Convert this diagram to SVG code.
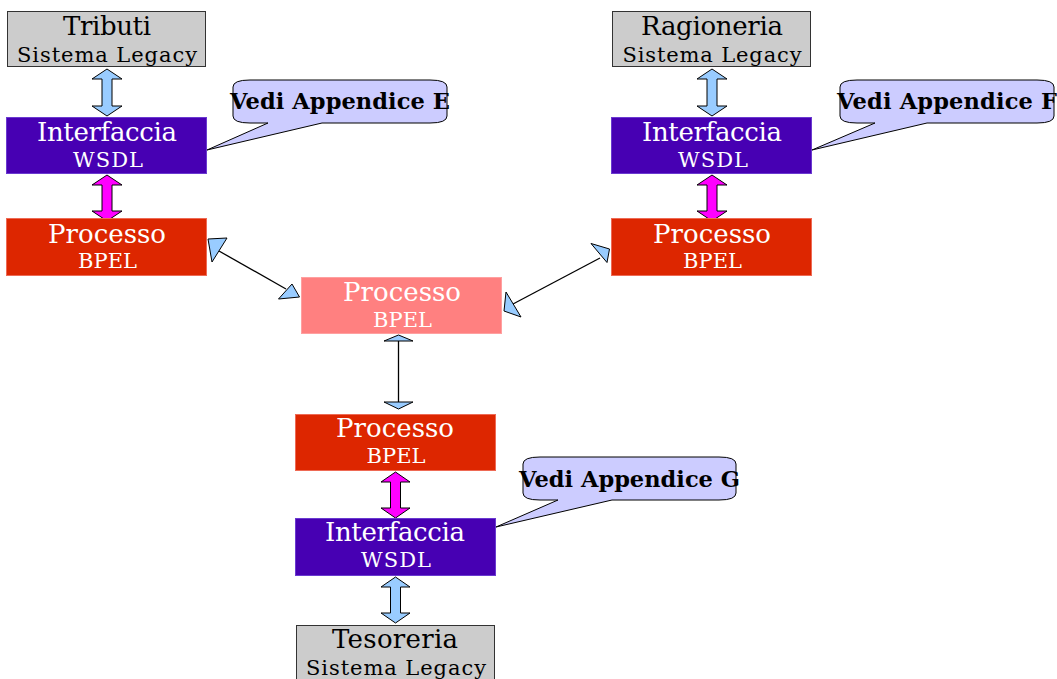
<svg xmlns="http://www.w3.org/2000/svg" width="1057" height="679" viewBox="0 0 1057 679">
  <style>
    .legacy { fill: #cccccc; stroke: #333333; stroke-width: 1; }
    .wsdl { fill: #4700b3; stroke: #6a3ad0; stroke-width: 1; }
    .bpel { fill: #dd2600; stroke: #ee6a55; stroke-width: 1; }
    .bpel-main { fill: #ff8080; stroke: #ffa0a0; stroke-width: 1; }
    .title { font-family: "DejaVu Serif", serif; font-size: 26px; text-anchor: middle; }
    .sub { font-family: "DejaVu Serif", serif; font-size: 21px; text-anchor: middle; }
    .dark { fill: #000000; }
    .light { fill: #ffffff; }
    .note { fill: #ccccff; stroke: #000000; stroke-width: 1; }
    .note-text { font-family: "DejaVu Serif", serif; font-size: 22.5px; font-weight: bold; fill: #000000; }
    .blk-blue { fill: #99ccff; stroke: #000000; stroke-width: 1; }
    .blk-mag { fill: #ff00ff; stroke: #000000; stroke-width: 1; }
    .link { stroke: #000000; stroke-width: 1.3; fill: none; }
    .head { fill: #99ccff; stroke: #000000; stroke-width: 1; stroke-linejoin: round; }
  </style>

  <!-- connectors -->
  <g id="connectors">
    <!-- double block arrows, left column -->
    <path class="blk-blue" d="M107,69 L122,79 H112 V106 H122 L107,116 L92,106 H102 V79 H92 Z"/>
    <path class="blk-mag" d="M107,175 L122,185 H112 V211 H122 L107,221 L92,211 H102 V185 H92 Z"/>
    <!-- double block arrows, right column -->
    <path class="blk-blue" d="M712,69 L727,79 H717 V106 H727 L712,116 L697,106 H707 V79 H697 Z"/>
    <path class="blk-mag" d="M712,175 L727,185 H717 V211 H727 L712,221 L697,211 H707 V185 H697 Z"/>
    <!-- double block arrows, bottom column -->
    <path class="blk-mag" d="M395.5,472 L410,482 H400.5 V508 H410 L395.5,518 L381,508 H390.5 V482 H381 Z"/>
    <path class="blk-blue" d="M395.5,577 L410,587 H400.5 V613 H410 L395.5,623 L381,613 H390.5 V587 H381 Z"/>

    <!-- left BPEL <-> central BPEL -->
    <line class="link" x1="219" y1="251" x2="286" y2="289"/>
    <polygon class="head" points="208,239 227,238 212,262"/>
    <polygon class="head" points="292,284 299.5,297 278.5,299"/>

    <!-- right BPEL <-> central BPEL -->
    <line class="link" x1="600" y1="258" x2="513" y2="304"/>
    <polygon class="head" points="591,243.5 609.5,249 607,262.5"/>
    <polygon class="head" points="506,292 504,311 521,317"/>

    <!-- central BPEL <-> bottom BPEL -->
    <line class="link" x1="398.5" y1="341" x2="398.5" y2="402"/>
    <polygon class="head" points="398.5,335 413,341 384,341"/>
    <polygon class="head" points="384,402 413,402 398.5,409"/>
  </g>

  <!-- Tributi -->
  <g id="tributi">
    <rect class="legacy" x="7.5" y="11.5" width="198" height="55"/>
    <text class="title dark" x="107" y="35" textLength="88">Tributi</text>
    <text class="sub dark" x="107" y="62" textLength="180">Sistema Legacy</text>
  </g>

  <!-- Interfaccia WSDL (Tributi) -->
  <g id="wsdl-tributi">
    <rect class="wsdl" x="6.5" y="117.5" width="200" height="56"/>
    <text class="title light" x="107" y="141" textLength="140">Interfaccia</text>
    <text class="sub light" x="108" y="167" textLength="70">WSDL</text>
  </g>

  <!-- Processo BPEL (Tributi) -->
  <g id="bpel-tributi">
    <rect class="bpel" x="6.5" y="218.5" width="200" height="57"/>
    <text class="title light" x="107" y="243" textLength="118">Processo</text>
    <text class="sub light" x="107.5" y="268" textLength="59">BPEL</text>
  </g>

  <!-- Ragioneria -->
  <g id="ragioneria">
    <rect class="legacy" x="612.5" y="11.5" width="198" height="55"/>
    <text class="title dark" x="712" y="35" textLength="142">Ragioneria</text>
    <text class="sub dark" x="712" y="62" textLength="179">Sistema Legacy</text>
  </g>

  <!-- Interfaccia WSDL (Ragioneria) -->
  <g id="wsdl-ragioneria">
    <rect class="wsdl" x="611.5" y="117.5" width="200" height="56"/>
    <text class="title light" x="712" y="141" textLength="140">Interfaccia</text>
    <text class="sub light" x="713" y="167" textLength="70">WSDL</text>
  </g>

  <!-- Processo BPEL (Ragioneria) -->
  <g id="bpel-ragioneria">
    <rect class="bpel" x="611.5" y="218.5" width="200" height="57"/>
    <text class="title light" x="712" y="243" textLength="118">Processo</text>
    <text class="sub light" x="712.5" y="268" textLength="59">BPEL</text>
  </g>

  <!-- central Processo BPEL -->
  <g id="bpel-centrale">
    <rect class="bpel-main" x="301.5" y="277.5" width="200" height="56"/>
    <text class="title light" x="402" y="301" textLength="118">Processo</text>
    <text class="sub light" x="402.5" y="327" textLength="59">BPEL</text>
  </g>

  <!-- Processo BPEL (Tesoreria) -->
  <g id="bpel-tesoreria">
    <rect class="bpel" x="295.5" y="414.5" width="200" height="56"/>
    <text class="title light" x="395" y="437" textLength="118">Processo</text>
    <text class="sub light" x="396" y="463" textLength="59">BPEL</text>
  </g>

  <!-- Interfaccia WSDL (Tesoreria) -->
  <g id="wsdl-tesoreria">
    <rect class="wsdl" x="295.5" y="518.5" width="200" height="57"/>
    <text class="title light" x="395" y="541" textLength="140">Interfaccia</text>
    <text class="sub light" x="396" y="567" textLength="70">WSDL</text>
  </g>

  <!-- Tesoreria -->
  <g id="tesoreria">
    <rect class="legacy" x="296.5" y="625.5" width="198" height="60"/>
    <text class="title dark" x="395" y="648" textLength="126">Tesoreria</text>
    <text class="sub dark" x="396" y="675" textLength="180">Sistema Legacy</text>
  </g>

  <!-- callout E -->
  <g id="nota-e">
    <path class="note" d="M250,80 H430 Q447,80 447,87 V116 Q447,123 430,123 H322 L207,150 L268,123 H250 Q233,123 233,116 V87 Q233,80 250,80 Z"/>
    <text class="note-text" x="230" y="109" textLength="220">Vedi Appendice E</text>
  </g>

  <!-- callout F -->
  <g id="nota-f">
    <path class="note" d="M857,80 H1037 Q1054,80 1054,87 V116 Q1054,123 1037,123 H927 L812,150 L875,123 H857 Q840,123 840,116 V87 Q840,80 857,80 Z"/>
    <text class="note-text" x="837" y="109" textLength="220">Vedi Appendice F</text>
  </g>

  <!-- callout G -->
  <g id="nota-g">
    <path class="note" d="M540,457 H719 Q736,457 736,464 V493 Q736,500 719,500 H612 L496,527 L558,500 H540 Q523,500 523,493 V464 Q523,457 540,457 Z"/>
    <text class="note-text" x="519" y="487" textLength="221">Vedi Appendice G</text>
  </g>
</svg>
